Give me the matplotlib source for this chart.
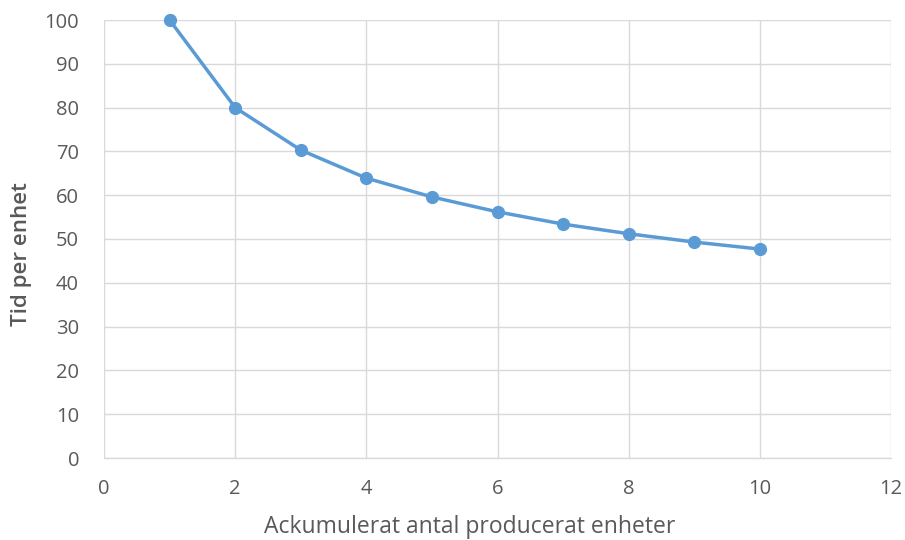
import matplotlib
matplotlib.use("Agg")
import matplotlib.pyplot as plt

units = [1, 2, 3, 4, 5, 6, 7, 8, 9, 10]
time_per_unit = [100, 80, 70.3, 63.9, 59.6, 56.2, 53.4, 51.2, 49.3, 47.7]

x_ticks = [0, 2, 4, 6, 8, 10, 12]
y_ticks = [0, 10, 20, 30, 40, 50, 60, 70, 80, 90, 100]

plt.rcParams['font.family'] = ['Open Sans', 'DejaVu Sans']
grey = '#595959'
blue = '#5B9BD5'
grid = '#D9D9D9'

fig = plt.figure(figsize=(9.05, 5.4), dpi=100)
ax = fig.add_axes([104 / 905, 1 - 458 / 540, (891 - 104) / 905, (458 - 20) / 540])

ax.plot(units, time_per_unit, color=blue, linewidth=2.5, marker='o',
        markersize=8.5, markerfacecolor=blue, markeredgecolor=blue, zorder=3,
        clip_on=False)

ax.set_xlim(0, 12)
ax.set_ylim(0, 100)
ax.set_xticks(x_ticks)
ax.set_yticks(y_ticks)
ax.grid(True, color=grid, linewidth=1)
ax.set_axisbelow(True)

for side in ['top', 'right', 'left']:
    ax.spines[side].set_visible(False)
ax.spines['bottom'].set_color(grid)
ax.spines['bottom'].set_linewidth(1)

ax.tick_params(length=0, labelsize=14.5, colors=grey)
ax.tick_params(axis='y', pad=18)
ax.tick_params(axis='x', pad=15)

# axis titles placed by pixel centre, as in the reference
fig.text(470 / 905, 1 - 527 / 540, 'Ackumulerat antal producerat enheter',
         fontsize=16.5, color=grey, ha='center', va='center')
fig.text(22 / 905, 1 - 254 / 540, 'Tid per enhet', fontsize=16, color=grey,
         fontweight='semibold', rotation=90, ha='center', va='center')

fig.savefig('out.png', dpi=100)
